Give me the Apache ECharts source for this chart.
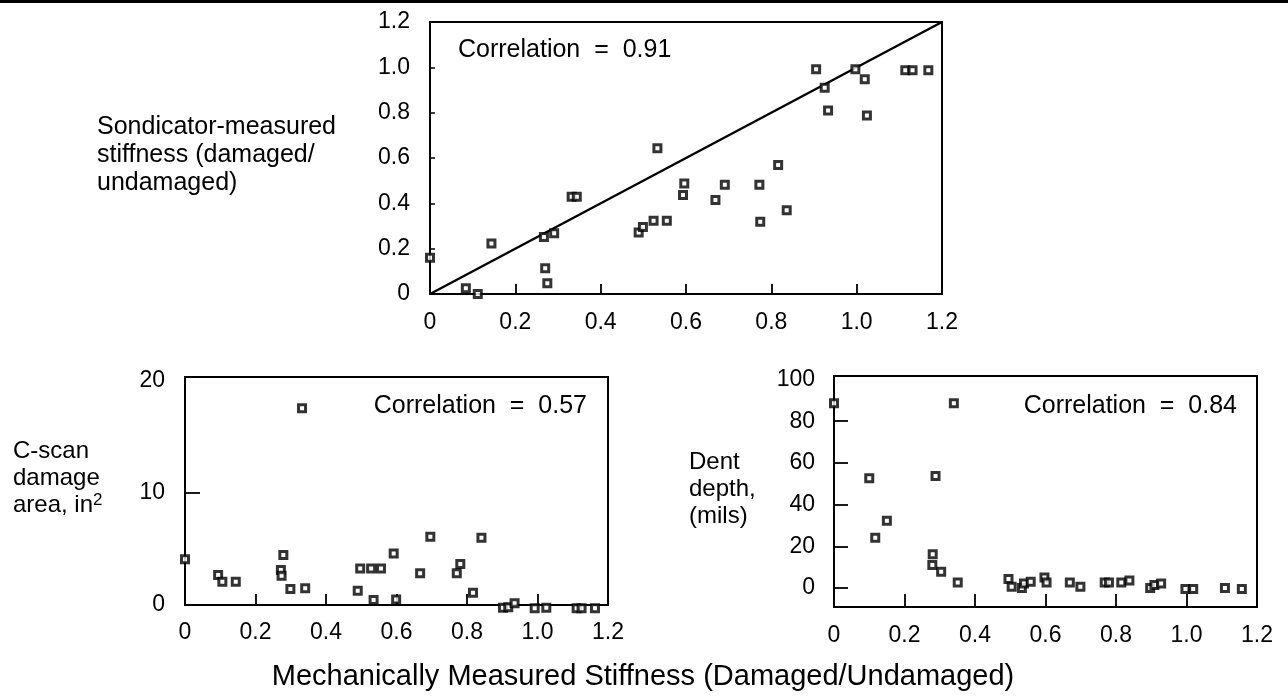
<!DOCTYPE html>
<html>
<head>
<meta charset="utf-8">
<script src="https://cdn.jsdelivr.net/npm/echarts@6/dist/echarts.min.js"></script>
<style>
html,body{margin:0;padding:0;background:#fff;}
#chart{width:1288px;height:700px;}
</style>
</head>
<body>
<div id="chart"></div>
<script>
// ---- Data ----
const xTicks = [0, 0.2, 0.4, 0.6, 0.8, 1.0, 1.2];
const topYTicks = [0, 0.2, 0.4, 0.6, 0.8, 1.0, 1.2];
const cscanYTicks = [0, 10, 20];
const dentYTicks = [0, 20, 40, 60, 80, 100];

// Sondicator-measured stiffness vs mechanically measured stiffness
const sondX = [0, 0.084, 0.112, 0.144, 0.267, 0.291, 0.270, 0.275, 0.332, 0.344, 0.533, 0.489, 0.499, 0.524, 0.555, 0.596, 0.593, 0.669, 0.691, 0.772, 0.774, 0.816, 0.836, 0.905, 0.925, 0.933, 0.997, 1.019, 1.024, 1.114, 1.131, 1.168];
const sondY = [0.16, 0.025, 0.0, 0.223, 0.252, 0.268, 0.114, 0.047, 0.429, 0.429, 0.643, 0.271, 0.296, 0.323, 0.323, 0.488, 0.437, 0.415, 0.482, 0.482, 0.319, 0.569, 0.370, 0.991, 0.910, 0.810, 0.991, 0.947, 0.788, 0.987, 0.987, 0.987];
const fitLineX = [0, 1.2];
const fitLineY = [0, 1.2];

// C-scan damage area (in^2)
const cscanX = [0, 0.094, 0.106, 0.144, 0.279, 0.272, 0.274, 0.299, 0.341, 0.332, 0.490, 0.497, 0.528, 0.556, 0.535, 0.592, 0.599, 0.667, 0.696, 0.771, 0.781, 0.817, 0.841, 0.902, 0.917, 0.935, 0.992, 1.025, 1.111, 1.125, 1.163];
const cscanY = [4.08, 2.68, 2.08, 2.08, 4.46, 3.13, 2.62, 1.43, 1.49, 17.56, 1.28, 3.27, 3.27, 3.27, 0.45, 4.61, 0.5, 2.83, 6.1, 2.83, 3.66, 1.1, 6.0, -0.24, -0.2, 0.15, -0.3, -0.25, -0.3, -0.3, -0.3];

// Dent depth (mils)
const dentX = [0, 0.100, 0.117, 0.150, 0.340, 0.288, 0.280, 0.279, 0.304, 0.351, 0.495, 0.504, 0.533, 0.539, 0.558, 0.597, 0.603, 0.669, 0.699, 0.768, 0.780, 0.815, 0.838, 0.897, 0.909, 0.928, 0.997, 1.019, 1.109, 1.157];
const dentY = [88.6, 52.6, 24.1, 32.3, 88.6, 53.7, 16.2, 11.0, 7.8, 2.7, 4.3, 0.6, 0, 2.2, 3.0, 5.1, 2.7, 2.7, 0.6, 2.7, 2.7, 2.7, 3.6, 0, 1.4, 2.2, -0.5, -0.5, 0, -0.5];

const topCorrelation = 'Correlation  =  0.91';
const cscanCorrelation = 'Correlation  =  0.57';
const dentCorrelation = 'Correlation  =  0.84';

// ---- Chart ----
const FONT = '"Liberation Sans", Arial, Helvetica, sans-serif';
const zip = (xs, ys) => xs.map((x, i) => [x, ys[i]]);
const fmt = v => (Math.abs(v) < 1e-9 ? '0' : v.toFixed(1));
const fmtInt = v => String(Math.round(v));
const LABEL_SIZE = 23;

function xAxisCfg(gridIndex, tickLen, margin) {
  return {
    type: 'value', gridIndex, min: 0, max: 1.2, interval: 0.2,
    axisLine: { show: true, onZero: false, lineStyle: { color: '#000', width: 2 } },
    axisTick: { show: true, inside: true, length: tickLen, customValues: [0.2, 0.4, 0.6, 0.8, 1.0], lineStyle: { color: '#000', width: 1.8 } },
    axisLabel: { show: true, customValues: xTicks, formatter: fmt, color: '#000', fontSize: LABEL_SIZE, fontFamily: FONT, margin },
    splitLine: { show: false }
  };
}

const symbolStyle = { color: '#fff', borderColor: '#000', borderWidth: 3 };

const option = {
  backgroundColor: '#fff',
  animation: false,
  grid: [
    { left: 430, top: 22, width: 512, height: 272, show: true, borderColor: '#000', borderWidth: 2 },
    { left: 185, top: 377, width: 423, height: 228, show: true, borderColor: '#000', borderWidth: 2 },
    { left: 834, top: 376, width: 423, height: 231, show: true, borderColor: '#000', borderWidth: 2 }
  ],
  xAxis: [
    xAxisCfg(0, 10, 17),
    xAxisCfg(1, 11, 16),
    xAxisCfg(2, 13, 17)
  ],
  yAxis: [
    {
      type: 'value', gridIndex: 0, min: 0, max: 1.2, interval: 0.2,
      axisLine: { show: true, onZero: false, lineStyle: { color: '#000', width: 2 } },
      axisTick: { show: true, inside: true, length: 5, customValues: [0.2, 0.4, 0.6, 0.8, 1.0], lineStyle: { color: '#000', width: 1.5 } },
      axisLabel: { show: true, customValues: topYTicks, formatter: fmt, color: '#000', fontSize: LABEL_SIZE, fontFamily: FONT, margin: 20 },
      splitLine: { show: false }
    },
    {
      type: 'value', gridIndex: 1, min: 0, max: 20.36,
      axisLine: { show: true, onZero: false, lineStyle: { color: '#000', width: 2 } },
      axisTick: { show: true, inside: true, length: 15, customValues: [10], lineStyle: { color: '#000', width: 1.8 } },
      axisLabel: { show: true, customValues: cscanYTicks, formatter: fmtInt, color: '#000', fontSize: LABEL_SIZE, fontFamily: FONT, margin: 20 },
      splitLine: { show: false }
    },
    {
      type: 'value', gridIndex: 2, min: -9.1, max: 101.7,
      axisLine: { show: true, onZero: false, lineStyle: { color: '#000', width: 2 } },
      axisTick: { show: true, inside: true, length: 14, customValues: [0, 20, 40, 60, 80], lineStyle: { color: '#000', width: 1.8 } },
      axisLabel: { show: true, customValues: dentYTicks, formatter: fmtInt, color: '#000', fontSize: LABEL_SIZE, fontFamily: FONT, margin: 19 },
      splitLine: { show: false }
    }
  ],
  series: [
    {
      type: 'line', xAxisIndex: 0, yAxisIndex: 0, data: zip(fitLineX, fitLineY),
      showSymbol: false, symbol: 'none', lineStyle: { color: '#000', width: 2.4 }, silent: true, z: 2
    },
    {
      type: 'scatter', xAxisIndex: 0, yAxisIndex: 0, data: zip(sondX, sondY),
      symbol: 'rect', symbolSize: 7, itemStyle: symbolStyle, clip: false, z: 3
    },
    {
      type: 'scatter', xAxisIndex: 1, yAxisIndex: 1, data: zip(cscanX, cscanY),
      symbol: 'rect', symbolSize: 7, itemStyle: symbolStyle, clip: false, z: 3
    },
    {
      type: 'scatter', xAxisIndex: 2, yAxisIndex: 2, data: zip(dentX, dentY),
      symbol: 'rect', symbolSize: 7, itemStyle: symbolStyle, clip: false, z: 3
    }
  ],
  graphic: [
    { type: 'rect', shape: { x: 0, y: 0, width: 1288, height: 3 }, style: { fill: '#000' } },
    { type: 'text', x: 458, y: 50, style: { text: topCorrelation, fontSize: 25, fontFamily: FONT, fill: '#000', textAlign: 'left', textVerticalAlign: 'middle' } },
    { type: 'text', x: 587, y: 406, style: { text: cscanCorrelation, fontSize: 25, fontFamily: FONT, fill: '#000', textAlign: 'right', textVerticalAlign: 'middle' } },
    { type: 'text', x: 1237, y: 406, style: { text: dentCorrelation, fontSize: 25, fontFamily: FONT, fill: '#000', textAlign: 'right', textVerticalAlign: 'middle' } },
    { type: 'text', x: 97, y: 113, style: { text: 'Sondicator-measured\nstiffness (damaged/\nundamaged)', fontSize: 25, lineHeight: 28, fontFamily: FONT, fill: '#000', textAlign: 'left' } },
    { type: 'text', x: 13, y: 438, style: { text: 'C-scan\ndamage\narea, in{s|2}', fontSize: 24, lineHeight: 27, fontFamily: FONT, fill: '#000', textAlign: 'left',
        rich: { s: { fontSize: 17, fontFamily: FONT, fill: '#000', lineHeight: 27, padding: [0, 0, 10, 0] } } } },
    { type: 'text', x: 689, y: 449, style: { text: 'Dent\ndepth,\n(mils)', fontSize: 24, lineHeight: 27, fontFamily: FONT, fill: '#000', textAlign: 'left' } },
    { type: 'text', x: 643, y: 677, style: { text: 'Mechanically Measured Stiffness (Damaged/Undamaged)', fontSize: 29, fontFamily: FONT, fill: '#000', textAlign: 'center', textVerticalAlign: 'middle' } }
  ]
};

const chart = echarts.init(document.getElementById('chart'), null, { renderer: 'canvas' });
chart.setOption(option);
</script>
</body>
</html>
